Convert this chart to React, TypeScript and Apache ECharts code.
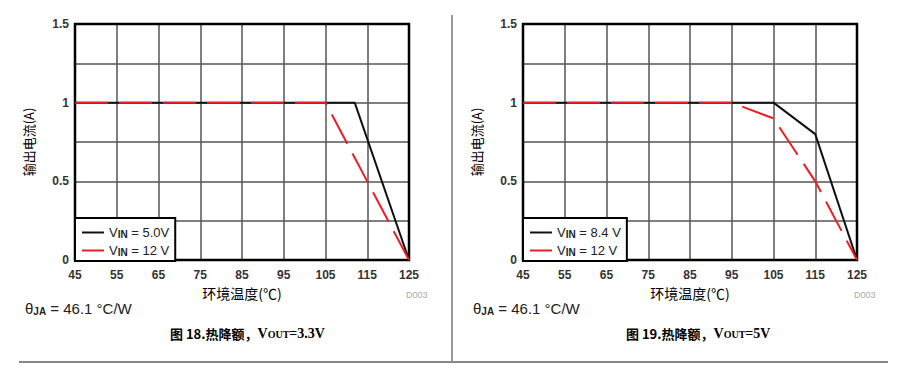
import React, { useEffect, useRef } from "react";
import * as echarts from "echarts";

// ---- data ----
const xTicks = [45, 55, 65, 75, 85, 95, 105, 115, 125];
const yTickLabels = ["0", "0.5", "1", "1.5"];

// Figure 18 (VOUT = 3.3V)
const left5V: [number, number][] = [[45, 1], [112, 1], [125, 0]];
const left12V: [number, number][] = [[45, 1], [105, 1], [125, 0]];
// Figure 19 (VOUT = 5V)
const right84V: [number, number][] = [[45, 1], [105, 1], [115, 0.8], [125, 0]];
const right12V: [number, number][] = [[45, 1], [95, 1], [105, 0.9], [115, 0.5], [125, 0]];

const legendLabels: Record<string, string> = {
  l5: "V{sub|IN} = 5.0V",
  l12: "V{sub|IN} = 12 V",
  r84: "V{sub|IN} = 8.4 V",
  r12: "V{sub|IN} = 12 V",
};

const xName = "环境温度(℃)";
const yName = "输出电流(A)";
const captionLeft = ["图 18.热降额，", "3.3V"];
const captionRight = ["图 19.热降额，", "5V"];
const thetaText = "46.1 °C/W";
const tag = "D003";

const BLACK = "#111111";
const RED = "#ee1c25";
const SANS = "'Liberation Sans', Arial, sans-serif";

function makeX(gridIndex: number) {
  return {
    type: "value",
    gridIndex,
    min: xTicks[0],
    max: xTicks[xTicks.length - 1],
    interval: 10,
    name: xName,
    nameLocation: "middle",
    nameGap: 23,
    nameTextStyle: { fontFamily: "'Noto Sans CJK SC'", fontSize: 14, color: "#000" },
    axisLine: { show: false },
    axisTick: { show: false },
    axisLabel: { fontFamily: SANS, fontSize: 12, fontWeight: "bold", color: "#333", margin: 9 },
    splitLine: { show: true, lineStyle: { color: "#555", width: 1.5 } },
  };
}

function makeY(gridIndex: number) {
  return {
    type: "value",
    gridIndex,
    min: 0,
    max: 1.5,
    interval: 0.25,
    name: yName,
    nameLocation: "middle",
    nameGap: 40,
    nameTextStyle: { fontFamily: "'Noto Sans CJK SC'", fontSize: 13, color: "#000" },
    axisLine: { show: false },
    axisTick: { show: false },
    axisLabel: {
      fontFamily: SANS,
      fontSize: 12,
      fontWeight: "bold",
      color: "#333",
      margin: 6,
      formatter: (v: number) => {
        const idx = Math.round(v * 2);
        return Math.abs(v * 2 - idx) < 1e-6 ? yTickLabels[idx] : "";
      },
    },
    splitLine: { show: true, lineStyle: { color: "#555", width: 1.5 } },
  };
}

function makeLegend(left: number, names: string[]) {
  return {
    orient: "vertical",
    left,
    top: 218,
    data: names.map((n) => ({ name: n, lineStyle: { type: "solid", width: 2 } })),
    icon: "path://M0,0 L22,0 L22,2 L0,2 Z",
    itemWidth: 22,
    itemHeight: 2.5,
    itemGap: 3,
    padding: [6, 6, 4, 7],
    backgroundColor: "#fff",
    borderColor: "#000",
    borderWidth: 2,
    borderRadius: 0,
    selectedMode: false,
    formatter: (n: string) => legendLabels[n],
    textStyle: {
      fontFamily: SANS,
      fontSize: 13,
      color: "#222",
      lineHeight: 13,
      rich: {
        sub: { fontFamily: SANS, fontSize: 10, fontWeight: "bold", color: "#222", verticalAlign: "bottom", lineHeight: 13, padding: [5, 0, 0, 0] },
      },
    },
  };
}

function line(name: string, data: [number, number][], idx: number, color: string, dashed: boolean) {
  return {
    name,
    type: "line",
    xAxisIndex: idx,
    yAxisIndex: idx,
    data,
    symbol: "none",
    z: dashed ? 3 : 2,
    itemStyle: { color },
    lineStyle: { color, width: 2, type: dashed ? [33, 11] : "solid" },
  };
}

function caption(x: number, parts: string[]) {
  return {
    type: "text",
    left: x,
    top: 326,
    style: {
      text: `{cn|${parts[0]}}{v|V}{s|OUT}{v|=${parts[1]}}`,
      rich: {
        cn: { fontFamily: "'Noto Sans CJK SC'", fontWeight: "bold", fontSize: 13, fill: "#000" },
        v: { fontFamily: "'Liberation Serif', serif", fontWeight: "bold", fontSize: 14, fill: "#000" },
        s: { fontFamily: "'Liberation Serif', serif", fontWeight: "bold", fontSize: 10, fill: "#000", padding: [3, 0, 0, 0] },
      },
    },
  };
}

function theta(x: number) {
  return {
    type: "text",
    left: x,
    top: 301,
    style: {
      text: `{m|θ}{s|JA}{m| = ${thetaText}}`,
      rich: {
        m: { fontFamily: SANS, fontSize: 15, fill: "#222" },
        s: { fontFamily: SANS, fontSize: 10, fontWeight: "bold", fill: "#222", padding: [6, 0, 0, 0] },
      },
    },
  };
}

export default function App() {
  const ref = useRef<HTMLDivElement>(null);
  useEffect(() => {
    if (!ref.current) return;
    const chart = echarts.init(ref.current, null, { renderer: "svg" });
    chart.setOption({
      animation: false,
      backgroundColor: "#fff",
      grid: [
        { left: 75, top: 24, width: 334, height: 236, show: true, borderColor: "#000", borderWidth: 2.5, z: 1 },
        { left: 523, top: 24, width: 334, height: 236, show: true, borderColor: "#000", borderWidth: 2.5, z: 1 },
      ],
      xAxis: [makeX(0), makeX(1)],
      yAxis: [makeY(0), makeY(1)],
      legend: [makeLegend(75, ["l5", "l12"]), makeLegend(523, ["r84", "r12"])],
      series: [
        line("l5", left5V, 0, BLACK, false),
        line("l12", left12V, 0, RED, true),
        line("r84", right84V, 1, BLACK, false),
        line("r12", right12V, 1, RED, true),
      ],
      graphic: [
        { type: "line", shape: { x1: 452, y1: 15, x2: 452, y2: 363 }, style: { stroke: "#333", lineWidth: 1 } },
        { type: "line", shape: { x1: 19, y1: 362, x2: 888, y2: 362 }, style: { stroke: "#888", lineWidth: 2 } },
        theta(25),
        theta(473),
        caption(170, captionLeft),
        caption(626, captionRight),
        { type: "text", left: 406, top: 290, style: { text: tag, fontFamily: SANS, fontSize: 9, fill: "#aaa" } },
        { type: "text", left: 854, top: 290, style: { text: tag, fontFamily: SANS, fontSize: 9, fill: "#aaa" } },
      ],
    });
    return () => chart.dispose();
  }, []);
  return <div ref={ref} style={{ position: "fixed", left: 0, top: 0, width: 911, height: 382 }} />;
}
